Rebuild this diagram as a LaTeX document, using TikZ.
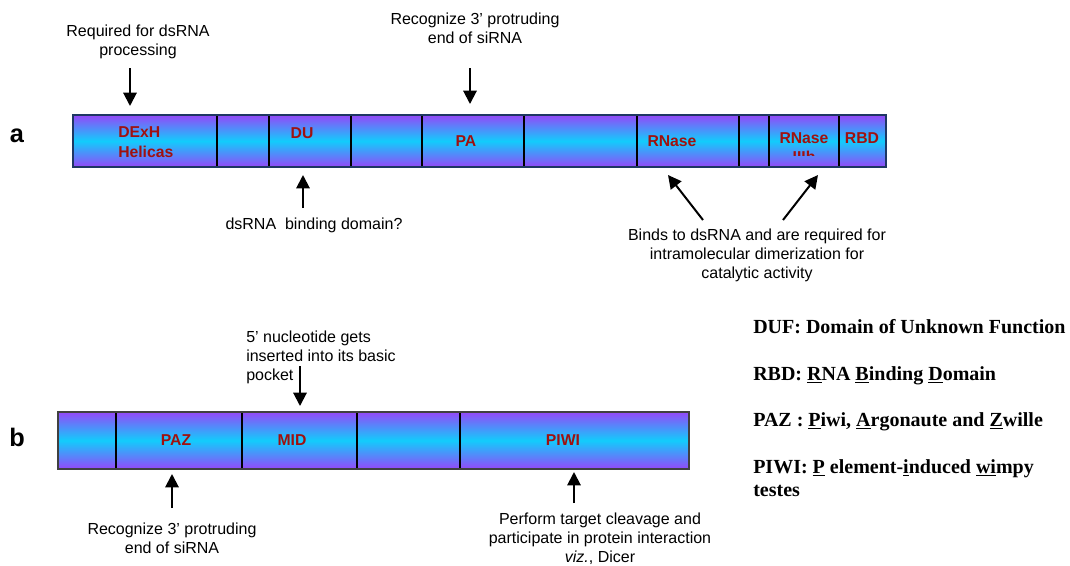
\documentclass[tikz,border=0pt]{standalone}
\usepackage{fontspec}
\setmainfont{Liberation Serif}
\newfontfamily\arialf{Liberation Sans}
\newfontfamily\tnrf{Liberation Serif}
\usetikzlibrary{arrows.meta}
\definecolor{dompurple}{RGB}{148,72,248}
\definecolor{domcyan}{RGB}{18,204,252}
\definecolor{domred}{RGB}{160,16,16}
\definecolor{navy}{RGB}{30,55,100}
\begin{document}
\begin{tikzpicture}[x=0.75pt,y=-0.75pt,
  seg/.style={inner sep=0pt, outer sep=0pt, anchor=north west,
    top color=dompurple, bottom color=dompurple, middle color=domcyan,
    draw=black, line width=1.5pt},
  dom/.style={inner sep=0pt, font=\arialf\bfseries\fontsize{11.8}{14.6}\selectfont, text=domred, align=center},
  note/.style={inner sep=0pt, font=\arialf\fontsize{12}{14.2}\selectfont, align=center},
  legend/.style={inner sep=0pt, anchor=base west, font=\tnrf\bfseries\fontsize{15}{18}\selectfont},
  panel/.style={inner sep=0pt, font=\arialf\bfseries\fontsize{19}{21}\selectfont},
  arr/.style={line width=1.5pt, -{Triangle[width=10pt,length=10pt]}}]
\useasboundingbox (0,0) rectangle (1070,565);

% ---------- bar a ----------
\newcommand\segA[3]{\node[seg, minimum width={(#3-#2)*0.75pt}, minimum height={52*0.75pt}] (#1) at (#2,115) {};}
\segA{a1}{73}{217}
\segA{a2}{217}{269}
\segA{a3}{269}{351}
\segA{a4}{351}{422}
\segA{a5}{422}{524}
\segA{a6}{524}{637}
\segA{a7}{637}{739}
\segA{a8}{739}{769}
\segA{a9}{769}{839}
\segA{a10}{839}{886}
\draw[navy, line width=1.6pt] (a1.north west) rectangle (a10.south east);

\node[dom, align=left, anchor=west] (lDExH) at (118,142) {DExH\\Helicas};
\node[dom] (lDU) at (302,133) {DU};
\node[dom] (lPA) at (466,141.5) {PA};
\node[dom] (lRN1) at (672,141.5) {RNase};
\begin{scope}
  \clip (769,115) rectangle (839,155);
  \node[dom, anchor=north] (lRN2) at (804,132) {RNase\\IIIb};
\end{scope}
\node[dom] (lRBD) at (862,138.5) {RBD};

\node[panel] (pa) at (17,136) {a};

% notes for bar a (anchor=base is the baseline of the last line)
\node[note, anchor=base] (n1) at (138,55) {Required for dsRNA\\processing};
\node[note, anchor=base] (n2) at (475,43) {Recognize 3’ protruding\\end of siRNA};
\node[note, anchor=base] (n3) at (314,229) {dsRNA\ \ binding domain?};
\node[note, anchor=base] (n4) at (757,278) {Binds to dsRNA and are required for\\intramolecular dimerization for\\catalytic activity};

\coordinate (t1) at (130,68);  \coordinate (h1) at (130,106);
\coordinate (t2) at (470,68);  \coordinate (h2) at (470,104);
\coordinate (t3) at (303,208); \coordinate (h3) at (303,175);
\coordinate (t4) at (703,220); \coordinate (h4) at (668,175);
\coordinate (t5) at (783,220); \coordinate (h5) at (818,175);
\draw[arr] (t1) -- (h1);
\draw[arr] (t2) -- (h2);
\draw[arr] (t3) -- (h3);
\draw[arr] (t4) -- (h4);
\draw[arr] (t5) -- (h5);

% ---------- bar b ----------
\newcommand\segB[3]{\node[seg, minimum width={(#3-#2)*0.75pt}, minimum height={57*0.75pt}] (#1) at (#2,412) {};}
\segB{b1}{58}{116}
\segB{b2}{116}{242}
\segB{b3}{242}{357}
\segB{b4}{357}{460}
\segB{b5}{460}{689}
\draw[black!75, line width=1.8pt] (b1.north west) rectangle (b5.south east);

\node[dom] (lPAZ) at (176,440) {PAZ};
\node[dom] (lMID) at (292,440) {MID};
\node[dom] (lPIWI) at (563,440) {PIWI};

\node[panel] (pb) at (17,437) {b};

\node[note, anchor=base west, align=left] (n5) at (246,380) {5’ nucleotide gets\\inserted into its basic\\pocket};
\node[note, anchor=base] (n6) at (172,553) {Recognize 3’ protruding\\end of siRNA};
\node[note, anchor=base] (n7) at (600,562) {Perform target cleavage and\\participate in protein interaction\\\textit{viz.}, Dicer};

\coordinate (t6) at (300,366); \coordinate (h6) at (300,406);
\coordinate (t7) at (172,508); \coordinate (h7) at (172,474);
\coordinate (t8) at (574,503); \coordinate (h8) at (574,472);
\draw[arr] (t6) -- (h6);
\draw[arr] (t7) -- (h7);
\draw[arr] (t8) -- (h8);

% ---------- legend ----------
\node[legend] (g1) at (753,333) {DUF: Domain of Unknown Function};
\node[legend] (g2) at (753,380) {RBD: \underline{R}NA \underline{B}inding \underline{D}omain};
\node[legend] (g3) at (753,426) {PAZ : \underline{P}iwi, \underline{A}rgonaute and \underline{Z}wille};
\node[legend] (g4) at (753,473) {PIWI: \underline{P} element-\underline{i}nduced \underline{wi}mpy};
\node[legend] (g5) at (753,496) {testes};
\end{tikzpicture}
\end{document}
